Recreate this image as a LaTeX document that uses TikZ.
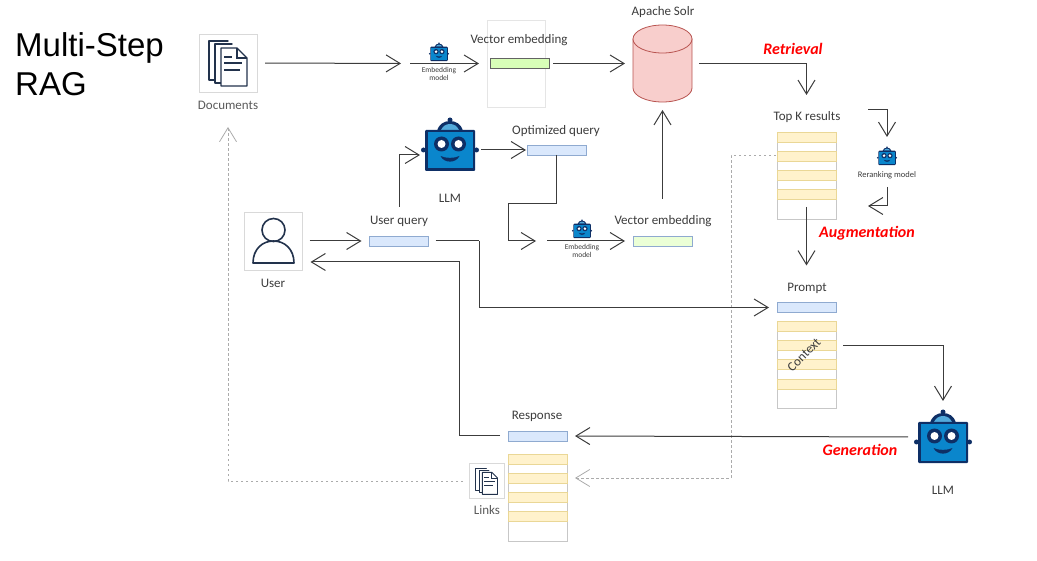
\documentclass[tikz,border=0pt]{standalone}
\usepackage{fontspec}
\usepackage{xcolor}
\setmainfont{Carlito}
\newfontfamily\titlefont{Liberation Sans}
\usetikzlibrary{
    arrows.meta,
    calc,
    positioning
}
\definecolor{inkgray}{HTML}{3C3C3C}
\definecolor{robotnavy}{HTML}{0E2F66}
\definecolor{robotblue}{HTML}{0A86CC}
\definecolor{iconink}{HTML}{22324C}
\definecolor{barblue}{HTML}{DAE8FC}
\definecolor{barblueline}{HTML}{8FAAD0}
\definecolor{barrow}{HTML}{FFF2CC}
\definecolor{barrowline}{HTML}{EAD796}
\definecolor{solrfill}{HTML}{F8CECC}
\definecolor{solrline}{HTML}{B85450}
\tikzset{
    conn/.style={draw=inkgray, line width=1pt, -{Straight Barb[length=14pt,width=17pt]}},
    plainconn/.style={draw=inkgray, line width=1pt},
    dashconn/.style={draw=black!33, line width=0.8pt, dash pattern=on 2.5pt off 2.5pt, -{Straight Barb[length=14pt,width=17pt]}},
    lbl/.style={text=inkgray, font=\fontsize{13}{13}\selectfont, inner sep=0pt},
    smalllbl/.style={text=inkgray, font=\fontsize{7.5}{8.5}\selectfont, inner sep=0pt, align=center},
    redlbl/.style={text=red, font=\fontsize{16}{16}\selectfont\bfseries\itshape, inner sep=0pt},
    iconbox/.style={draw=black!15, line width=0.6pt, fill=white, inner sep=0pt, outer sep=0pt, minimum width=#1, minimum height=#1},
    slot/.style={inner sep=0pt, outer sep=0pt, minimum width=#1, minimum height=#1},
    barbox/.style={inner sep=0pt, outer sep=0pt, minimum width=59pt, minimum height=10pt, line width=0.8pt},
    bluebar/.style={barbox, draw=barblueline, fill=barblue},
    greenbar/.style={barbox, draw=#1},
    rowbar/.style={barbox, draw=barrowline, fill=barrow},
    stackbox/.style={draw=black!22, line width=0.7pt, fill=white, inner sep=0pt, outer sep=0pt, minimum width=59pt, minimum height=87pt},
    robot/.pic={
        \fill[robotnavy] (-26.5,5) circle[radius=2.5];
        \fill[robotnavy] (26.5,5) circle[radius=2.5];
        \fill[robotnavy] (0,-25) circle[radius=2.5];
        \fill[robotnavy] (-13,-14) .. controls (-11,-21) and (-6,-24) .. (0,-24) .. controls (6,-24) and (11,-21) .. (13,-14) -- cycle;
        \fill[robotblue!70!white] (-9,-15) .. controls (-7,-19) and (-4,-21) .. (0,-21) .. controls (4,-21) and (7,-19) .. (9,-15) -- cycle;
        \fill[robotnavy, rounded corners=1pt] (-25,-15) rectangle (25,26);
        \fill[robotblue] (-22.5,-12.5) rectangle (22.5,23.5);
        \fill[robotnavy] (-8.5,-1) circle[radius=7.5];
        \fill[robotnavy] (8.5,-1) circle[radius=7.5];
        \fill[white] (-8.5,-1) circle[radius=4];
        \fill[white] (8.5,-1) circle[radius=4];
        \fill[robotnavy] (-9.5,11) .. controls (-6,18.5) and (6,18.5) .. (9.5,11) .. controls (5,13.5) and (-5,13.5) .. cycle;
    },
    docstack/.pic={
        \draw[iconink, line cap=round, line join=round] (-13,17) -- (-19,17) -- (-19,-22) -- (0,-22);
        \draw[iconink, line cap=round, line join=round] (-7,20) -- (-13,20) -- (-13,-19) -- (4,-19);
        \draw[iconink, line join=round, fill=white] (-7,-15) -- (9,-15) -- (19,-5) -- (19,23) -- (-7,23) -- cycle;
        \draw[iconink] (9,-15) -- (9,-5) -- (19,-5);
        \draw[iconink] (-4,-6) -- (4,-6);
        \draw[iconink] (-4,0) -- (14,0);
        \draw[iconink] (-4,7) -- (12,7);
    },
    person/.pic={
        \draw[iconink, line width=1.6pt] (0,-11) circle[radius=11.5];
        \draw[iconink, line width=1.6pt, line join=round] (-20.5,22) .. controls (-20.5,8) and (-11,0) .. (0,0) .. controls (11,0) and (20.5,8) .. (20.5,22) -- cycle;
    },
    dbdrum/.pic={
        \draw[solrline, line width=0.8pt, fill=solrfill] (-29.5,-24.5) -- (-29.5,24.5) .. controls (-29.5,32.2) and (-16.3,38.5) .. (0,38.5) .. controls (16.3,38.5) and (29.5,32.2) .. (29.5,24.5) -- (29.5,-24.5) -- cycle;
        \draw[solrline, line width=0.8pt, fill=solrfill] (0,-24.5) ellipse[x radius=29.5, y radius=14];
    }
}
% box with four shaded rows
\newcommand{\ragstack}[3]{
    \node[stackbox] (#1) at (#2, #3) {};
    \node[rowbar] (#1row1) at (#2, #3 - 38.5) {};
    \node[rowbar] (#1row2) at (#2, #3 - 19.5) {};
    \node[rowbar] (#1row3) at (#2, #3 - 0.5) {};
    \node[rowbar] (#1row4) at (#2, #3 + 19) {};
}

\begin{document}
\begin{tikzpicture}[x=1pt, y=-1pt]
    \useasboundingbox (0, 0) rectangle (1037, 561);

    \node[text=black, font=\fontsize{33}{39}\selectfont\titlefont, align=left, anchor=north west, inner sep=0pt] (title) at (15, 32) {Multi-Step\\RAG};

    % documents and first embedding
    \node[iconbox=58pt] (docs) at (228, 63) {};
    \pic[line width=1.4pt] at (docs) {docstack};
    \node[lbl, text=black!65] (docslbl) at (228, 105) {Documents};
    \node[draw=black!10, line width=0.6pt, inner sep=0pt, outer sep=0pt, minimum width=58pt, minimum height=87pt] (vecApage) at (516, 63.5) {};
    \node[slot=18pt] (embA) at (439, 52) {};
    \pic[scale=0.35] at (embA) {robot};
    \node[smalllbl] (embAlbl) at (439, 74) {Embedding\\model};
    \node[lbl] (vecAlbl) at (519, 40) {Vector embedding};
    \node[greenbar=inkgray!80, fill=green!55!yellow!28] (vecA) at (519.5, 63.5) {};
    \coordinate (embAin) at (410, 63.5);

    % store
    \node[slot=59pt, minimum height=77pt] (solr) at (662.5, 63.5) {};
    \pic at (solr) {dbdrum};
    \node[lbl] (solrlbl) at (663, 12) {Apache Solr};
    \node[redlbl] (retrlbl) at (793, 49) {Retrieval};

    % results
    \node[lbl] (topklbl) at (807, 117) {Top K results};
    \ragstack{topk}{806.5}{175.5}
    \node[slot=18pt] (rerank) at (887, 156) {};
    \pic[scale=0.35] at (rerank) {robot};
    \node[smalllbl, font=\fontsize{8.5}{9}\selectfont] (reranklbl) at (887, 175) {Reranking model};
    \coordinate (rerankin) at (868, 110);
    \coordinate (rerankout) at (887, 187);
    \coordinate (rerankback) at (868, 206);
    \node[redlbl] (auglbl) at (867, 233) {Augmentation};

    % query side
    \node[slot=54pt] (llmA) at (450, 145) {};
    \pic at (llmA) {robot};
    \node[lbl] (llmAlbl) at (450, 198) {LLM};
    \node[lbl] (optlbl) at (556, 131) {Optimized query};
    \node[bluebar] (opt) at (556.5, 150) {};
    \node[iconbox=58pt] (user) at (273.5, 241) {};
    \pic at (user) {person};
    \node[lbl] (userlbl) at (273, 283) {User};
    \node[lbl] (querylbl) at (399, 221) {User query};
    \node[bluebar] (query) at (399, 241) {};
    \node[slot=18pt] (embB) at (582, 229) {};
    \pic[scale=0.35] at (embB) {robot};
    \node[smalllbl] (embBlbl) at (582, 251) {Embedding\\model};
    \node[lbl] (vecBlbl) at (663, 221) {Vector embedding};
    \node[greenbar=barblueline, fill=green!50!yellow!16] (vecB) at (662.5, 241) {};
    \coordinate (embBin) at (547, 241);

    % prompt
    \node[lbl] (promptlbl) at (807, 288) {Prompt};
    \node[bluebar] (prompt) at (806.5, 307.5) {};
    \ragstack{ctx}{806.5}{365}
    \node[lbl, rotate=45] (ctxlbl) at (804, 355) {Context};

    % generation
    \node[slot=54pt] (llmB) at (943, 437) {};
    \pic at (llmB) {robot};
    \node[lbl] (llmBlbl) at (943, 490) {LLM};
    \node[redlbl] (genlbl) at (860, 450) {Generation};

    % response
    \node[lbl] (resplbl) at (537, 416) {Response};
    \node[bluebar] (resp) at (537.5, 436) {};
    \ragstack{ans}{537.5}{497.5}
    \node[iconbox=35pt] (links) at (486.5, 481) {};
    \pic[scale=0.58, line width=0.9pt] at (links) {docstack};
    \node[lbl, text=black!65] (linkslbl) at (487, 510) {Links};

    % connectors
    \draw[dashconn, shorten <=1pt, shorten >=8pt] (topk.west |- 0, 155.5) -| (731, 478) -- (ans.east |- 0, 478);
    \draw[dashconn, shorten <=6pt, shorten >=35pt] (links.west) -| (docs.south);
    \draw[conn, shorten <=8pt, shorten >=9pt] (docs.east) -- (embAin);
    \draw[conn, shorten >=11pt] (embAin) -- (vecA.west);
    \draw[conn, shorten <=4pt, shorten >=8pt] (vecA.east) -- (solr.west);
    \draw[conn, shorten <=7pt, shorten >=37pt] (solr.east) -| (topk.north);
    \draw[conn, shorten >=10pt] (rerankin) -| (rerank.north);
    \draw[conn] (rerankout) |- (rerankback);
    \draw[conn, shorten <=-12pt, shorten >=37pt] (topk.south) -- (prompt.north -| topk.south);
    \draw[conn, shorten >=8pt] (vecB.north) ++(0, -37) coordinate (vecBup) -- (solr.south);
    \draw[conn, shorten >=3pt] (query.north) ++(0, -29) coordinate (queryup) |- (llmA.west |- 0, 155);
    \draw[conn, shorten >=1pt] (llmA.east) ++(4, 5) coordinate (llmAout) -- (opt.west);
    \draw[plainconn] (opt.south) -- ++(0, 49) coordinate (optbend) -| (508, 241) coordinate (optdown);
    \draw[conn, shorten >=11pt] (optdown) -- (embBin);
    \draw[conn, shorten >=8pt] (embBin) -- (vecB.west);
    \draw[conn, shorten <=7pt, shorten >=8pt] (user.east) -- (query.west);
    \draw[plainconn, shorten <=7pt] (query.east) -- (479, 241) coordinate (querybend);
    \draw[conn, shorten >=8pt] (querybend) |- (prompt.west);
    \draw[conn, shorten <=8pt, shorten >=8pt] (resp.west) -- (459, 436) coordinate (respbend) |- (user.east |- 0, 262);
    \draw[conn, shorten <=7pt, shorten >=9pt] (ctx.east |- 0, 346) -| (llmB.north);
    \draw[conn, shorten <=8pt, shorten >=8pt] (llmB.west) -- (resp.east);
\end{tikzpicture}
\end{document}
